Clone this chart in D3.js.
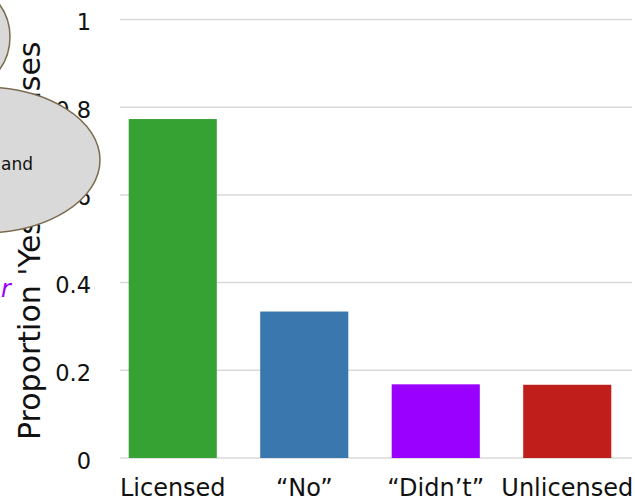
<!DOCTYPE html>
<html>
<head>
<meta charset="utf-8">
<script src="https://cdn.jsdelivr.net/npm/d3@7"></script>
<style>
  html, body { margin: 0; padding: 0; background: #fff; }
  svg { display: block; font-family: "DejaVu Sans", sans-serif; }
</style>
</head>
<body>
<svg id="chart" width="635" height="503"></svg>
<script>
// ---- data ----
const categories = ["Licensed", "\u201CNo\u201D", "\u201CDidn\u2019t\u201D", "Unlicensed"];
const values = [0.773, 0.334, 0.168, 0.167];
const barColors = ["#36a234", "#3a77ae", "#9900ff", "#bf1e1b"];
const yTicks = [0, 0.2, 0.4, 0.6, 0.8, 1];
const yTickLabels = ["0", "0.2", "0.4", "0.6", "0.8", "1"];
const yTitle = "Proportion 'Yes' Responses";

// ---- layout ----
const svg = d3.select("#chart");
const plotLeft = 120, plotRight = 632;

const y = d3.scaleLinear().domain([0, 1]).range([458, 19.5]);
const x = d3.scaleBand().domain(categories).range([107, 633])
  .paddingInner(0.33).paddingOuter(0.165);

// gridlines
svg.append("g").selectAll("line").data(yTicks).join("line")
  .attr("x1", plotLeft).attr("x2", plotRight)
  .attr("y1", d => y(d)).attr("y2", d => y(d))
  .attr("stroke", "#d9d9d9").attr("stroke-width", 1.5);

// bars
svg.append("g").selectAll("rect").data(values).join("rect")
  .attr("x", (d, i) => x(categories[i]))
  .attr("width", x.bandwidth())
  .attr("y", d => y(d))
  .attr("height", d => y(0) - y(d))
  .attr("fill", (d, i) => barColors[i]);

// y tick labels
svg.append("g").selectAll("text").data(yTicks).join("text")
  .attr("x", 91)
  .attr("y", d => y(d) + 2.5)
  .attr("text-anchor", "end")
  .attr("dominant-baseline", "central")
  .attr("font-size", 22.5)
  .attr("fill", "#111")
  .text((d, i) => yTickLabels[i]);

// x category labels
svg.append("g").selectAll("text").data(categories).join("text")
  .attr("x", d => x(d) + x.bandwidth() / 2)
  .attr("y", 496)
  .attr("text-anchor", "middle")
  .attr("font-size", 24)
  .attr("fill", "#111")
  .text(d => d);

// y axis title
svg.append("text")
  .attr("transform", "translate(40,440) rotate(-90)")
  .attr("text-anchor", "start")
  .attr("font-size", 30)
  .attr("fill", "#111")
  .text(yTitle);

// purple italic fragment at the left edge
svg.append("text")
  .attr("x", 1).attr("y", 297)
  .attr("text-anchor", "start")
  .attr("font-size", 24)
  .attr("font-style", "italic")
  .attr("fill", "#9b00ff")
  .text("r");

// callout ellipses (mostly off the left edge)
svg.append("ellipse")
  .attr("cx", -40).attr("cy", 37).attr("rx", 50).attr("ry", 53)
  .attr("fill", "#d9d9d9").attr("stroke", "#7a6a4f").attr("stroke-width", 1.5);

svg.append("ellipse")
  .attr("cx", -18).attr("cy", 160).attr("rx", 118).attr("ry", 73)
  .attr("fill", "#d9d9d9").attr("stroke", "#7a6a4f").attr("stroke-width", 1.5);

svg.append("text")
  .attr("x", 33).attr("y", 170)
  .attr("text-anchor", "end")
  .attr("font-size", 17)
  .attr("fill", "#111")
  .text("and");
</script>
</body>
</html>
